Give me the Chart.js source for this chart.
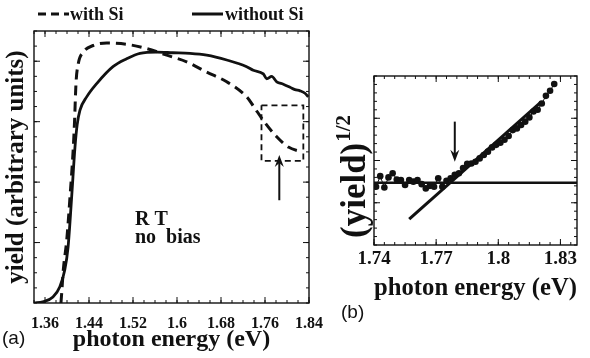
<!DOCTYPE html>
<html>
<head>
<meta charset="utf-8">
<script src="https://cdn.jsdelivr.net/npm/chart.js@4.4.1/dist/chart.umd.min.js"></script>
<style>
  body { margin: 0; background: #fff; }
  #chartA { position: absolute; left: 0; top: 0; }
  #chartB { position: absolute; left: 336px; top: 0; }
</style>
</head>
<body>
<canvas id="chartA" width="336" height="358"></canvas>
<canvas id="chartB" width="254" height="358"></canvas>
<script>
// ---- panel (a) data ----
const energyWith = [1.389, 1.3904, 1.3933, 1.3995, 1.4055, 1.4115, 1.4136, 1.4164, 1.4205, 1.4296, 1.4478, 1.4722,
    1.5085, 1.5449, 1.5813, 1.6176, 1.654, 1.6904, 1.7267, 1.7387, 1.7569, 1.7813, 1.8024, 1.8267];
const yieldWith = [0.0, 0.17, 0.55, 1.04, 1.76, 2.58, 2.98, 3.64, 3.96, 4.15, 4.26, 4.30,
    4.28, 4.21, 4.10, 3.99, 3.82, 3.66, 3.41, 3.26, 3.02, 2.75, 2.58, 2.50];

const energyWithout = [1.340, 1.356, 1.3745, 1.387, 1.396, 1.402, 1.4085, 1.4145, 1.4185, 1.4236, 1.4358, 1.454,
    1.4836, 1.5085, 1.5327, 1.5631, 1.5927, 1.6236, 1.654, 1.6904, 1.7267, 1.7387, 1.7569, 1.7631,
    1.7722, 1.7813, 1.7933, 1.8055, 1.8145, 1.8236, 1.8327, 1.8387];
const yieldWithout = [0.0, 0.02, 0.10, 0.27, 0.55, 0.93, 1.76, 2.58, 2.95, 3.19, 3.41, 3.63,
    3.91, 4.04, 4.13, 4.15, 4.14, 4.13, 4.10, 4.02, 3.91, 3.85, 3.79, 3.71,
    3.75, 3.66, 3.62, 3.57, 3.53, 3.51, 3.47, 3.41];

const zoomBoxX = [1.7536, 1.8297];
const zoomBoxY = [2.35, 3.27];
const arrowAX = 1.786;
const arrowAY = [1.70, 2.45]; // tail, tip

const xTicksA = [1.36, 1.44, 1.52, 1.6, 1.68, 1.76, 1.84];

// ---- panel (b) data ----
const energyB = [1.741, 1.743, 1.745, 1.747, 1.749, 1.751, 1.753, 1.755, 1.757, 1.759, 1.761, 1.763,
    1.765, 1.767, 1.769, 1.771, 1.773, 1.775, 1.777, 1.779, 1.781, 1.783, 1.785, 1.787,
    1.789, 1.791, 1.793, 1.795, 1.797, 1.799, 1.801, 1.803, 1.805, 1.807, 1.809, 1.811,
    1.813, 1.815, 1.817, 1.819, 1.821, 1.823, 1.825, 1.827];
const sqrtYieldB = [1.38, 1.63, 1.36, 1.60, 1.70, 1.55, 1.54, 1.42, 1.54, 1.50, 1.54, 1.44,
    1.34, 1.40, 1.38, 1.58, 1.38, 1.52, 1.58, 1.66, 1.70, 1.82, 1.92, 1.93,
    1.97, 2.05, 2.13, 2.21, 2.31, 2.37, 2.42, 2.49, 2.58, 2.72, 2.76, 2.84,
    2.92, 3.02, 3.16, 3.20, 3.35, 3.53, 3.65, 3.81];
const baseLevel = 1.475;
const fitX = [1.757, 1.8207];
const fitY = [0.615, 3.39];
const arrowBX = 1.779;
const arrowBY = [2.92, 1.97]; // tail, tip

const xTicksB = [1.74, 1.77, 1.8, 1.83];

const SERIF = '"Liberation Serif", "Times New Roman", serif';
const INK = '#111';

function pts(xs, ys) {
    return xs.map((x, i) => ({ x: x, y: ys[i] }));
}

function steps(start, end, step) {
    const out = [];
    for (let i = 0; start + i * step <= end + 1e-9; i++) out.push(+(start + i * step).toFixed(4));
    return out;
}

// frame and inward tick marks on all four sides
const frameTicks = {
    id: 'frameTicks',
    afterDraw(chart, args, o) {
        const { ctx, chartArea: a, scales: { x, y } } = chart;
        ctx.save();
        ctx.strokeStyle = INK;
        ctx.lineWidth = 1;
        ctx.beginPath();
        const vx = (list, len) => list.forEach(v => {
            const p = x.getPixelForValue(v);
            ctx.moveTo(p, a.bottom); ctx.lineTo(p, a.bottom - len);
            ctx.moveTo(p, a.top); ctx.lineTo(p, a.top + len);
        });
        const vy = (list, len) => list.forEach(v => {
            const p = y.getPixelForValue(v);
            ctx.moveTo(a.left, p); ctx.lineTo(a.left + len, p);
            ctx.moveTo(a.right, p); ctx.lineTo(a.right - len, p);
        });
        vx(o.xMinor, 3); vx(o.xMajor, 6);
        vy(o.yMinor, 3); vy(o.yMajor, 6);
        ctx.stroke();
        ctx.lineWidth = 1.4;
        ctx.strokeRect(a.left, a.top, a.right - a.left, a.bottom - a.top);
        ctx.restore();
    }
};

function drawArrow(ctx, px, yTail, yTip) {
    const dir = yTip < yTail ? 1 : -1; // 1 = pointing up
    ctx.beginPath();
    ctx.moveTo(px, yTail);
    ctx.lineTo(px, yTip + dir * 6);
    ctx.lineWidth = 2;
    ctx.stroke();
    ctx.beginPath();
    ctx.moveTo(px, yTip);
    ctx.lineTo(px - 4.5, yTip + dir * 12);
    ctx.lineTo(px, yTip + dir * 8);
    ctx.lineTo(px + 4.5, yTip + dir * 12);
    ctx.closePath();
    ctx.fill();
}

const panelA = {
    id: 'panelA',
    afterDraw(chart) {
        const { ctx, scales: { x, y } } = chart;
        ctx.save();
        ctx.fillStyle = INK;
        ctx.strokeStyle = INK;
        // legend
        ctx.lineWidth = 3;
        ctx.setLineDash([8, 5]);
        ctx.beginPath(); ctx.moveTo(38, 14); ctx.lineTo(69, 14); ctx.stroke();
        ctx.setLineDash([]);
        ctx.beginPath(); ctx.moveTo(192, 14); ctx.lineTo(223, 14); ctx.stroke();
        ctx.font = 'bold 18px ' + SERIF;
        ctx.textBaseline = 'alphabetic';
        ctx.fillText('with Si', 70, 20);
        ctx.fillText('without Si', 225, 20);
        // annotation text
        ctx.font = 'bold 20px ' + SERIF;
        ctx.fillText('R T', 135, 225);
        ctx.fillText('no  bias', 135, 243);
        // arrow
        drawArrow(ctx, x.getPixelForValue(arrowAX), y.getPixelForValue(arrowAY[0]), y.getPixelForValue(arrowAY[1]));
        // panel letter
        ctx.font = '19px "Liberation Sans", Arial, sans-serif';
        ctx.textBaseline = 'middle';
        ctx.fillText('(a)', 2, 339);
        ctx.restore();
    }
};

const panelB = {
    id: 'panelB',
    afterDraw(chart) {
        const { ctx, scales: { x, y } } = chart;
        ctx.save();
        ctx.fillStyle = INK;
        ctx.strokeStyle = INK;
        drawArrow(ctx, x.getPixelForValue(arrowBX), y.getPixelForValue(arrowBY[0]), y.getPixelForValue(arrowBY[1]));
        // y title with superscript
        ctx.save();
        ctx.translate(29, 238);
        ctx.rotate(-Math.PI / 2);
        ctx.textBaseline = 'alphabetic';
        ctx.font = 'bold 35px ' + SERIF;
        ctx.fillText('(yield)', 0, 0);
        const w = ctx.measureText('(yield)').width;
        ctx.font = 'bold 21px ' + SERIF;
        ctx.fillText('1/2', w + 1, -15);
        ctx.restore();
        // panel letter
        ctx.font = '19px "Liberation Sans", Arial, sans-serif';
        ctx.textBaseline = 'middle';
        ctx.fillText('(b)', 5, 313);
        ctx.restore();
    }
};

new Chart(document.getElementById('chartA'), {
    type: 'line',
    data: {
        datasets: [{
            label: 'with Si',
            data: pts(energyWith, yieldWith),
            borderColor: INK,
            borderWidth: 3,
            borderDash: [10, 6],
            pointRadius: 0,
            cubicInterpolationMode: 'monotone'
        }, {
            label: 'without Si',
            data: pts(energyWithout, yieldWithout),
            borderColor: INK,
            borderWidth: 2.8,
            pointRadius: 0,
            cubicInterpolationMode: 'monotone'
        }, {
            label: 'zoom box',
            data: pts([zoomBoxX[0], zoomBoxX[1], zoomBoxX[1], zoomBoxX[0], zoomBoxX[0]],
                [zoomBoxY[1], zoomBoxY[1], zoomBoxY[0], zoomBoxY[0], zoomBoxY[1]]),
            borderColor: INK,
            borderWidth: 1.8,
            borderDash: [6, 4],
            pointRadius: 0,
            tension: 0
        }]
    },
    options: {
        responsive: false,
        animation: false,
        layout: { padding: { top: 31, right: 27, left: 0, bottom: 0 } },
        plugins: {
            legend: { display: false },
            tooltip: { enabled: false },
            frameTicks: {
                xMajor: xTicksA, xMinor: steps(1.34, 1.84, 0.02),
                yMajor: [1, 2, 3, 4], yMinor: steps(0, 4.5, 0.25)
            }
        },
        scales: {
            x: {
                type: 'linear', min: 1.34, max: 1.84,
                afterBuildTicks: s => { s.ticks = xTicksA.map(v => ({ value: v })); },
                afterFit: s => { s.height = 55; },
                grid: { display: false, drawTicks: false },
                border: { display: false },
                ticks: { padding: 11, color: INK, maxRotation: 0, font: { family: SERIF, weight: 'bold', size: 16 }, callback: v => String(v) },
                title: { display: true, text: 'photon energy (eV)', color: INK, font: { family: SERIF, weight: 'bold', size: 24 }, padding: { top: 0, bottom: 4 } }
            },
            y: {
                type: 'linear', min: 0, max: 4.5,
                afterFit: s => { s.width = 34; },
                grid: { display: false, drawTicks: false },
                border: { display: false },
                ticks: { display: false },
                title: { display: true, text: 'yield (arbitrary units)', color: INK, font: { family: SERIF, weight: 'bold', size: 25 }, padding: { top: 2, bottom: 0 } }
            }
        }
    },
    plugins: [frameTicks, panelA]
});

new Chart(document.getElementById('chartB'), {
    type: 'line',
    data: {
        datasets: [{
            label: 'data',
            data: pts(energyB, sqrtYieldB),
            borderColor: INK,
            backgroundColor: INK,
            borderWidth: 1,
            pointRadius: 3.3,
            pointBorderWidth: 0,
            tension: 0
        }, {
            label: 'background',
            data: pts([1.74, 1.838], [baseLevel, baseLevel]),
            borderColor: INK,
            borderWidth: 2.5,
            pointRadius: 0
        }, {
            label: 'fit',
            data: pts(fitX, fitY),
            borderColor: INK,
            borderWidth: 3,
            pointRadius: 0
        }]
    },
    options: {
        responsive: false,
        animation: false,
        layout: { padding: { top: 76, right: 13, left: 0, bottom: 54 } },
        plugins: {
            legend: { display: false },
            tooltip: { enabled: false },
            frameTicks: {
                xMajor: xTicksB, xMinor: steps(1.74, 1.838, 0.005),
                yMajor: [1, 2, 3], yMinor: steps(0, 4, 0.2)
            }
        },
        scales: {
            x: {
                type: 'linear', min: 1.74, max: 1.838,
                afterBuildTicks: s => { s.ticks = xTicksB.map(v => ({ value: v })); },
                afterFit: s => { s.height = 59; },
                grid: { display: false, drawTicks: false },
                border: { display: false },
                ticks: { padding: 3, color: INK, maxRotation: 0, font: { family: SERIF, weight: 'bold', size: 19 }, callback: v => String(v) },
                title: { display: true, text: 'photon energy (eV)', color: INK, font: { family: SERIF, weight: 'bold', size: 26 }, padding: { top: 0, bottom: 0 } }
            },
            y: {
                type: 'linear', min: 0, max: 4,
                afterFit: s => { s.width = 38; },
                grid: { display: false, drawTicks: false },
                border: { display: false },
                ticks: { display: false },
                title: { display: false }
            }
        }
    },
    plugins: [frameTicks, panelB]
});
</script>
</body>
</html>
